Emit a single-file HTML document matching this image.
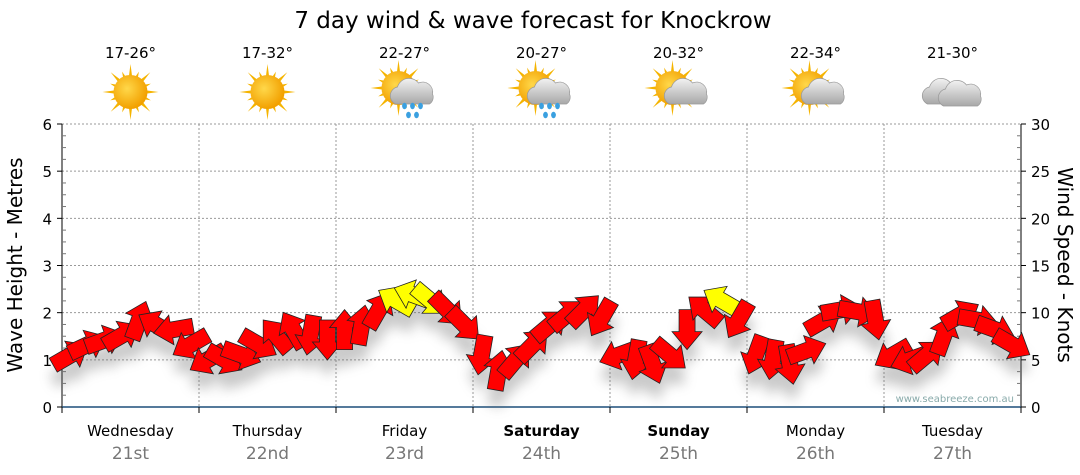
<!DOCTYPE html>
<html><head><meta charset="utf-8">
<style>
html,body{margin:0;padding:0;background:#fff;}
svg{display:block;font-family:"DejaVu Sans","Liberation Sans",sans-serif;}
</style></head>
<body>
<svg id="chart" width="1080" height="475" viewBox="0 0 1080 475" xmlns="http://www.w3.org/2000/svg">
<defs>
  <radialGradient id="sunG" cx="40%" cy="40%" r="60%"><stop offset="0" stop-color="#ffd84a"/><stop offset="1" stop-color="#f2a000"/></radialGradient>
  <linearGradient id="cloudG" x1="0" y1="0" x2="0" y2="1"><stop offset="0" stop-color="#f2f2f2"/><stop offset="1" stop-color="#a8a8a8"/></linearGradient>
  <filter id="shadow" x="-50%" y="-50%" width="200%" height="200%"><feGaussianBlur stdDeviation="6"/></filter>
</defs>
<text x="533" y="28" text-anchor="middle" font-size="23" fill="#000">7 day wind &amp; wave forecast for Knockrow</text>
<g id="days"></g>
<g id="grid"></g>
<g id="axes"></g>
<text x="1014" y="402" text-anchor="end" font-size="10" fill="#8aa">www.seabreeze.com.au</text>
<g id="shadows" filter="url(#shadow)" opacity="0.35"></g>
<g id="arrows"></g>
<text transform="translate(22,265) rotate(-90)" text-anchor="middle" font-size="20" fill="#000">Wave Height - Metres</text>
<text transform="translate(1058,265) rotate(90)" text-anchor="middle" font-size="20" fill="#000">Wind Speed - Knots</text>
</svg>
<script>
const dayNames = ["Wednesday","Thursday","Friday","Saturday","Sunday","Monday","Tuesday"];
const dayDates = ["21st","22nd","23rd","24th","25th","26th","27th"];
const boldDays = [false,false,false,true,true,false,false];
const temps = ["17-26°","17-32°","22-27°","20-27°","20-32°","22-34°","21-30°"];
const icons = ["sun","sun","sunrain","sunrain","suncloud","suncloud","cloud"];
const waveTicks = [0,1,2,3,4,5,6];
const windTicks = [0,5,10,15,20,25,30];
const windSpeed = [5.5,6.6,7.1,7.6,9.2,8.7,8.2,6.6,
  5.0,5.0,5.5,6.6,7.6,8.2,7.6,7.1,
  8.2,8.7,10.3,11.3,11.9,11.3,10.3,8.7,
  5.5,3.9,5.0,6.6,8.7,9.8,10.3,9.4,
  5.5,5.0,4.5,5.5,8.2,10.3,11.3,9.2,
  5.5,5.0,4.5,6.0,9.2,10.3,10.1,9.2,
  5.5,5.0,5.5,7.6,9.8,9.2,8.2,6.6];
const windDir = [-30,-25,-20,-30,-70,-150,170,150,
  150,30,20,30,-130,-120,100,90,
  -90,-80,-60,-150,-160,40,45,45,
  100,-80,-50,-45,-40,-40,-45,120,
  160,100,70,40,90,-140,-150,120,
  110,100,80,-20,-30,-10,10,80,
  150,160,-40,-70,-30,10,20,30];

const NS="http://www.w3.org/2000/svg";
const X0=62, X1=1021, Y0=407, Y1=124;
const dayW=(X1-X0)/7;
const yWave=v=>Y0-(v/6)*(Y0-Y1);
const yWind=v=>Y0-(v/30)*(Y0-Y1);
const xTime=i=>X0+(i+0.5)*dayW/8;
function mk(tag,attrs,parent){const e=document.createElementNS(NS,tag);for(const k in attrs)e.setAttribute(k,attrs[k]);parent.appendChild(e);return e;}

const grid=document.getElementById('grid'), axes=document.getElementById('axes'), days=document.getElementById('days');
waveTicks.forEach(v=>{ if(v>0){const g=mk('line',{x1:X0,x2:X1,y1:yWave(v),y2:yWave(v),stroke:'#999','stroke-dasharray':'2,2','stroke-width':1},grid);

}});
for(let d=1;d<7;d++){const g=mk('line',{x1:X0+d*dayW,x2:X0+d*dayW,y1:Y1,y2:Y0,stroke:'#999','stroke-dasharray':'2,2','stroke-width':1},grid);

}
mk('line',{x1:X0,x2:X0,y1:Y1,y2:Y0,stroke:'#000'},axes);
mk('line',{x1:X1,x2:X1,y1:Y1,y2:Y0,stroke:'#000'},axes);
const bx=mk('line',{x1:X0,x2:X1,y1:Y0,y2:Y0,stroke:'#1d4f7a','stroke-width':1.5},axes);


for(let v=0;v<=6.001;v+=0.25){const y=yWave(v);const maj=Math.abs(v-Math.round(v))<0.01;
 mk('line',{x1:X0-(maj?5:0),x2:X0+(maj?0:4),y1:y,y2:y,stroke:maj?'#000':'#777'},axes);}
waveTicks.forEach(v=>{const t=mk('text',{x:X0-10,y:yWave(v)+6,'text-anchor':'end','font-size':15},axes);t.textContent=v;

});
for(let v=0;v<=30;v+=1.25){const y=yWind(v);const maj=Math.abs(v/5-Math.round(v/5))<0.01;
 mk('line',{x1:X1-(maj?0:4),x2:X1+(maj?5:0),y1:y,y2:y,stroke:maj?'#000':'#777'},axes);}
windTicks.forEach(v=>{const t=mk('text',{x:X1+10,y:yWind(v)+6,'text-anchor':'start','font-size':15},axes);t.textContent=v;

});
for(let d=0;d<=7;d++) mk('line',{x1:X0+d*dayW,x2:X0+d*dayW,y1:Y0,y2:Y0+6,stroke:'#000'},axes);

function drawIcon(type,cx,cy,g){
  const sun=(sx,sy)=>{for(let k=0;k<16;k++){const a=k*Math.PI/8,L=k%2?22:28;
    mk('polygon',{points:`${sx+Math.cos(a-0.13)*14},${sy+Math.sin(a-0.13)*14} ${sx+Math.cos(a)*L},${sy+Math.sin(a)*L} ${sx+Math.cos(a+0.13)*14},${sy+Math.sin(a+0.13)*14}`,fill:'#f5b400'},g);}
    mk('circle',{cx:sx,cy:sy,r:17,fill:'url(#sunG)'},g);};
  const cloud=(qx,qy,s)=>{mk('path',{d:`M${qx-19},${qy+10} a9,9 0 0 1 2,-17 a12,12 0 0 1 21,-4 a10,10 0 0 1 14,11 a8,8 0 0 1 -3,10 z`,fill:'url(#cloudG)',stroke:'#999','stroke-width':0.7},g);};
  const rain=(qx,qy)=>{[[-6,0],[2,0],[10,0],[-2,9],[6,9]].forEach(p=>mk('ellipse',{cx:qx+p[0],cy:qy+p[1],rx:2.4,ry:3.2,fill:'#3aa0e0'},g));};
  if(type==='sun') sun(cx,cy);
  if(type==='sunrain'){sun(cx-6,cy-4);cloud(cx+10,cy+2,1);rain(cx+6,cy+14);}
  if(type==='suncloud'){sun(cx-6,cy-4);cloud(cx+10,cy+2,1);}
  if(type==='cloud'){cloud(cx-6,cy+2,1);cloud(cx+10,cy+4,1);}
}
for(let d=0;d<7;d++){
  const cx=X0+(d+0.5)*dayW;
  const g=mk('g',{},days);
  
  
  const t=mk('text',{x:cx,y:58,'text-anchor':'middle','font-size':15},g);t.textContent=temps[d];
  
  
  const ig=mk('g',{},g);
  
  
  drawIcon(icons[d],cx,92,ig);
  const n=mk('text',{x:cx,y:436,'text-anchor':'middle','font-size':15,'font-weight':boldDays[d]?'bold':'normal'},g);n.textContent=dayNames[d];
  
  
  const dt=mk('text',{x:cx,y:459,'text-anchor':'middle','font-size':17,fill:'#777'},g);dt.textContent=dayDates[d];
  
  
}
const ag=document.getElementById('arrows'), sg=document.getElementById('shadows');
const shape="M-20,-8 L2,-8 L2,-15 L20,0 L2,15 L2,8 L-20,8 Z";
windSpeed.forEach((v,i)=>{
  const x=xTime(i), y=yWind(v);
  mk('path',{d:shape,fill:'#666',transform:`translate(${x},${y+16}) rotate(${windDir[i]})`},sg);
  const a=mk('path',{d:shape,fill:v>=11?'#ffff00':'#ff0000',stroke:'#222','stroke-width':0.8,transform:`translate(${x},${y}) rotate(${windDir[i]})`},ag);
  
  
});
</script>
</body></html>
